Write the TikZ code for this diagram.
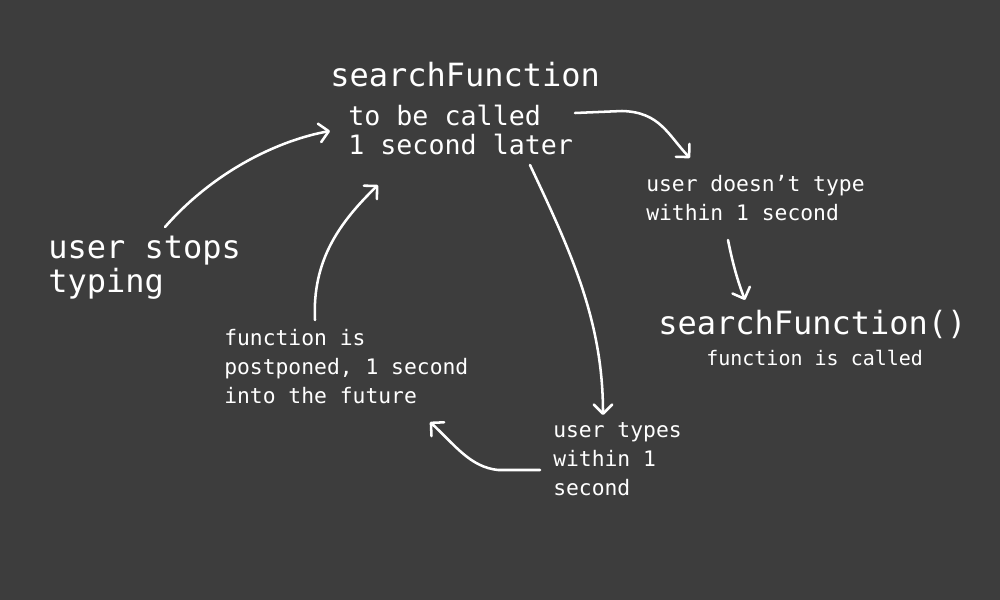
\documentclass[tikz,border=0pt]{standalone}
\usepackage{fontspec}
\setmonofont{DejaVu Sans Mono}
\usetikzlibrary{arrows.meta}
\definecolor{bg}{RGB}{61,61,61}
\begin{document}
\begin{tikzpicture}[x=0.75pt,y=-0.75pt,
 txt/.style={text=white, anchor=base west, inner sep=0pt, align=left},
 big/.style={txt, font=\ttfamily\fontsize{24}{25.5}\selectfont},
 mid/.style={txt, font=\ttfamily\fontsize{20}{21.75}\selectfont},
 small/.style={txt, font=\ttfamily\fontsize{16}{21.75}\selectfont},
 tiny/.style={txt, font=\ttfamily\fontsize{15}{21.75}\selectfont},
 arr/.style={draw=white, line width=1.9pt, line cap=round, line join=round,
   -{Straight Barb[length=7pt,width=14pt,round]}}]
\fill[bg] (0,0) rectangle (1000,600);
\useasboundingbox (0,0) rectangle (1000,600);
% texts (base anchor = baseline of the last line)
\node[big]   (title)     at (330,86)  {searchFunction};
\node[mid]   (tocall)    at (348,154) {to be called\\1 second later};
\node[big]   (stops)     at (48,292)  {user stops\\typing};
\node[small] (nottype)   at (646,220) {user doesn’t type\\within 1 second};
\node[big]   (called)    at (658,334) {searchFunction()};
\node[tiny]  (calledsub) at (706,365) {function is called};
\node[small] (postponed) at (224,403) {function is\\postponed, 1 second\\into the future};
\node[small] (types)     at (553,495) {user types\\within 1\\second};
% connector ends
\coordinate (a1) at (165,227); \coordinate (a2) at (330,131);
\coordinate (b1) at (315,320); \coordinate (b2) at (378,185);
\coordinate (c1) at (575,113); \coordinate (c2) at (690,158);
\coordinate (d1) at (530,165); \coordinate (d2) at (603,415);
\coordinate (e1) at (540,470); \coordinate (e2) at (430,422);
\coordinate (f1) at (728,240); \coordinate (f2) at (745,300);
% connectors
\draw[arr] (a1) .. controls (215,170) and (280,140) .. (a2);
\draw[arr] (b1) .. controls (312,260) and (340,222) .. (b2);
\draw[arr] (c1) -- (622,111) .. controls (660,112) and (668,135) .. (c2);
\draw[arr] (d1) .. controls (570,250) and (603,320) .. (d2);
\draw[arr] (e1) -- (498,470) .. controls (470,467) and (455,445) .. (e2);
\draw[arr] (f1) .. controls (733,265) and (738,282) .. (f2);
\end{tikzpicture}
\end{document}
